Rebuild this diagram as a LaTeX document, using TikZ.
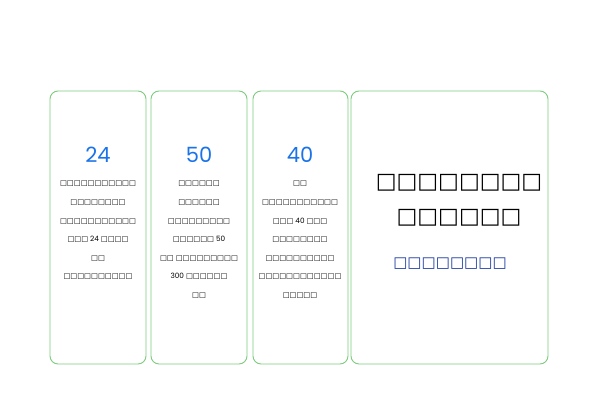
\documentclass[tikz,border=0pt]{standalone}
\usepackage{fontspec}
\setmainfont{Poppins}
\newfontfamily\dv{DejaVu Sans}
\newcommand{\tf}[1]{{\dv #1}}
\definecolor{gr}{HTML}{7DCB7D}
\definecolor{bl}{HTML}{1A73E8}
\definecolor{db}{HTML}{1A3AA0}
\begin{document}
\begin{tikzpicture}[x=1pt,y=-1pt,
 card/.style={draw=gr,line width=0.9pt,rounded corners=8pt},
 num/.style={text=bl,font=\fontsize{21}{21}\selectfont,anchor=center},
 body/.style={align=center,font=\fontsize{7.3}{18.6}\selectfont,anchor=north,inner sep=0pt}]
\useasboundingbox (0,0) rectangle (600,400);
\draw[card] (50,91) rectangle (146,364);
\draw[card] (151,91) rectangle (247,364);
\draw[card] (253,91) rectangle (348,364);
\draw[card] (351,91) rectangle (548,364);
\node[num] (n1) at (98,155) {24};
\node[num] (n2) at (199,155) {50};
\node[num] (n3) at (300,155) {40};
\node[body] (t1) at (98,181) {\tf{□□□□□□□□□□□}\\\tf{□□□□□□□□}\\\tf{□□□□□□□□□□□}\\\tf{□□□} 24 \tf{□□□□}\\\tf{□□}\\\tf{□□□□□□□□□□}};
\node[body] (t2) at (199,181) {\tf{□□□□□□}\\\tf{□□□□□□}\\\tf{□□□□□□□□□}\\\tf{□□□□□□} 50\\\tf{□□} \tf{□□□□□□□□□}\\300 \tf{□□□□□□}\\\tf{□□}};
\node[body] (t3) at (300,181) {\tf{□□}\\\tf{□□□□□□□□□□□}\\\tf{□□□} 40 \tf{□□□}\\\tf{□□□□□□□□}\\\tf{□□□□□□□□□□}\\\tf{□□□□□□□□□□□□}\\\tf{□□□□□}};
\node[font=\fontsize{22}{35}\selectfont,align=center,anchor=center] (h) at (459,200) {\tf{□□□□□□□□}\\\tf{□□□□□□}};
\node[font=\fontsize{15}{15}\selectfont,text=db] (s) at (450,264) {\tf{□□□□□□□□}};
\end{tikzpicture}
\end{document}
